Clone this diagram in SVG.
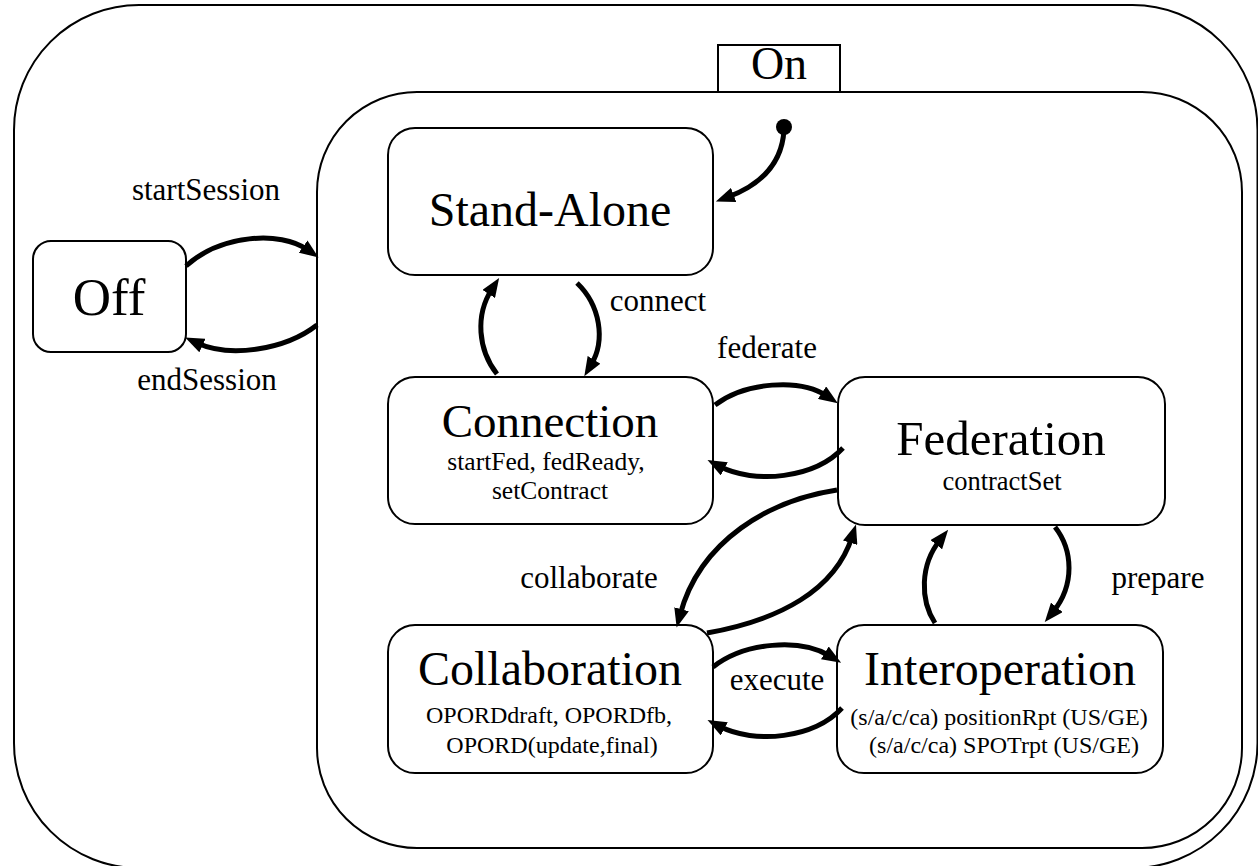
<svg xmlns="http://www.w3.org/2000/svg" width="1258" height="866" viewBox="0 0 1258 866">
  <defs>
    <marker id="head" markerUnits="userSpaceOnUse" markerWidth="19" markerHeight="15" refX="6" refY="7.5" orient="auto">
      <path d="M0,0 L19,7.5 L0,15 z" fill="#000"/>
    </marker>
    <style>
      .frame { fill: #fff; stroke: #000; stroke-width: 2; }
      .state { fill: #fff; stroke: #000; stroke-width: 2; }
      .title { font-family: "Liberation Serif", "Times New Roman", serif; font-size: 48px; text-anchor: middle; fill: #000; }
      .sub { font-family: "Liberation Serif", "Times New Roman", serif; font-size: 25.5px; text-anchor: middle; fill: #000; }
      .sub2 { font-family: "Liberation Serif", "Times New Roman", serif; font-size: 24px; text-anchor: middle; fill: #000; }
      .lbl { font-family: "Liberation Serif", "Times New Roman", serif; font-size: 31px; text-anchor: middle; fill: #000; }
      .edge { fill: none; stroke: #000; stroke-width: 5; marker-end: url(#head); }
    </style>
  </defs>

  <rect width="1258" height="866" fill="#fff"/>

  <!-- outer session frame -->
  <rect id="session" class="frame" x="14" y="5" width="1243.5" height="863" rx="125" ry="125"/>

  <!-- Off state -->
  <g id="off">
    <rect class="state" x="33" y="241" width="153" height="111" rx="18" ry="18"/>
    <text class="title" x="109" y="315" style="font-size:53px">Off</text>
  </g>

  <!-- On composite state -->
  <g id="on">
    <rect class="frame" x="317" y="92" width="925" height="756" rx="100" ry="100"/>
    <rect class="frame" x="718" y="45" width="122" height="47"/>
    <text class="title" x="779" y="79" style="font-size:46px">On</text>
  </g>

  <g id="stand-alone">
    <rect class="state" x="388" y="128" width="325" height="147" rx="27" ry="27"/>
    <text class="title" x="550" y="226">Stand-Alone</text>
  </g>

  <g id="connection">
    <rect class="state" x="388" y="377" width="325" height="147" rx="27" ry="27"/>
    <text class="title" x="550" y="437" style="font-size:47px">Connection</text>
    <text class="sub" x="546" y="469.5">startFed, fedReady,</text>
    <text class="sub" x="550" y="499">setContract</text>
  </g>

  <g id="federation">
    <rect class="state" x="838" y="377" width="327" height="148" rx="27" ry="27"/>
    <text class="title" x="1001" y="455" style="font-size:49px">Federation</text>
    <text class="sub" x="1002" y="490" style="font-size:26.5px">contractSet</text>
  </g>

  <g id="collaboration">
    <rect class="state" x="388" y="625" width="325" height="148" rx="27" ry="27"/>
    <text class="title" x="550" y="685">Collaboration</text>
    <text class="sub2" x="549" y="723">OPORDdraft, OPORDfb,</text>
    <text class="sub2" x="552" y="753">OPORD(update,final)</text>
  </g>

  <g id="interoperation">
    <rect class="state" x="837" y="625" width="326" height="148" rx="27" ry="27"/>
    <text class="title" x="1000" y="685">Interoperation</text>
    <text class="sub2" x="999" y="725">(s/a/c/ca) positionRpt (US/GE)</text>
    <text class="sub2" x="1004" y="753">(s/a/c/ca) SPOTrpt (US/GE)</text>
  </g>

  <!-- transitions -->
  <g id="connectors">
    <circle cx="784" cy="127" r="8" fill="#000"/>
    <path class="edge" d="M784,130 C782,165 760,185 728,197"/>
    <path class="edge" d="M186,266 C220,235 280,230 308,250"/>
    <path class="edge" d="M317,325 C285,350 230,358 197,343"/>
    <path class="edge" d="M497,374 C478,350 475,315 492,289"/>
    <path class="edge" d="M577,283 C600,305 606,340 591,365"/>
    <path class="edge" d="M715,405 C745,382 800,378 827,396"/>
    <path class="edge" d="M843,448 C815,478 755,485 719,466"/>
    <path class="edge" d="M837,490 C770,500 700,540 680,615"/>
    <path class="edge" d="M707,633 C780,620 835,590 852,537"/>
    <path class="edge" d="M713,667 C745,642 800,638 830,656"/>
    <path class="edge" d="M842,708 C815,738 755,745 719,726"/>
    <path class="edge" d="M935,623 C920,600 920,565 940,540"/>
    <path class="edge" d="M1055,527 C1073,550 1075,585 1053,612"/>
  </g>

  <!-- transition labels -->
  <g id="labels">
    <text class="lbl" x="206" y="200">startSession</text>
    <text class="lbl" x="207" y="390">endSession</text>
    <text class="lbl" x="658" y="311">connect</text>
    <text class="lbl" x="767" y="358">federate</text>
    <text class="lbl" x="589" y="588">collaborate</text>
    <text class="lbl" x="1158" y="588">prepare</text>
    <text class="lbl" x="777" y="690">execute</text>
  </g>
</svg>
